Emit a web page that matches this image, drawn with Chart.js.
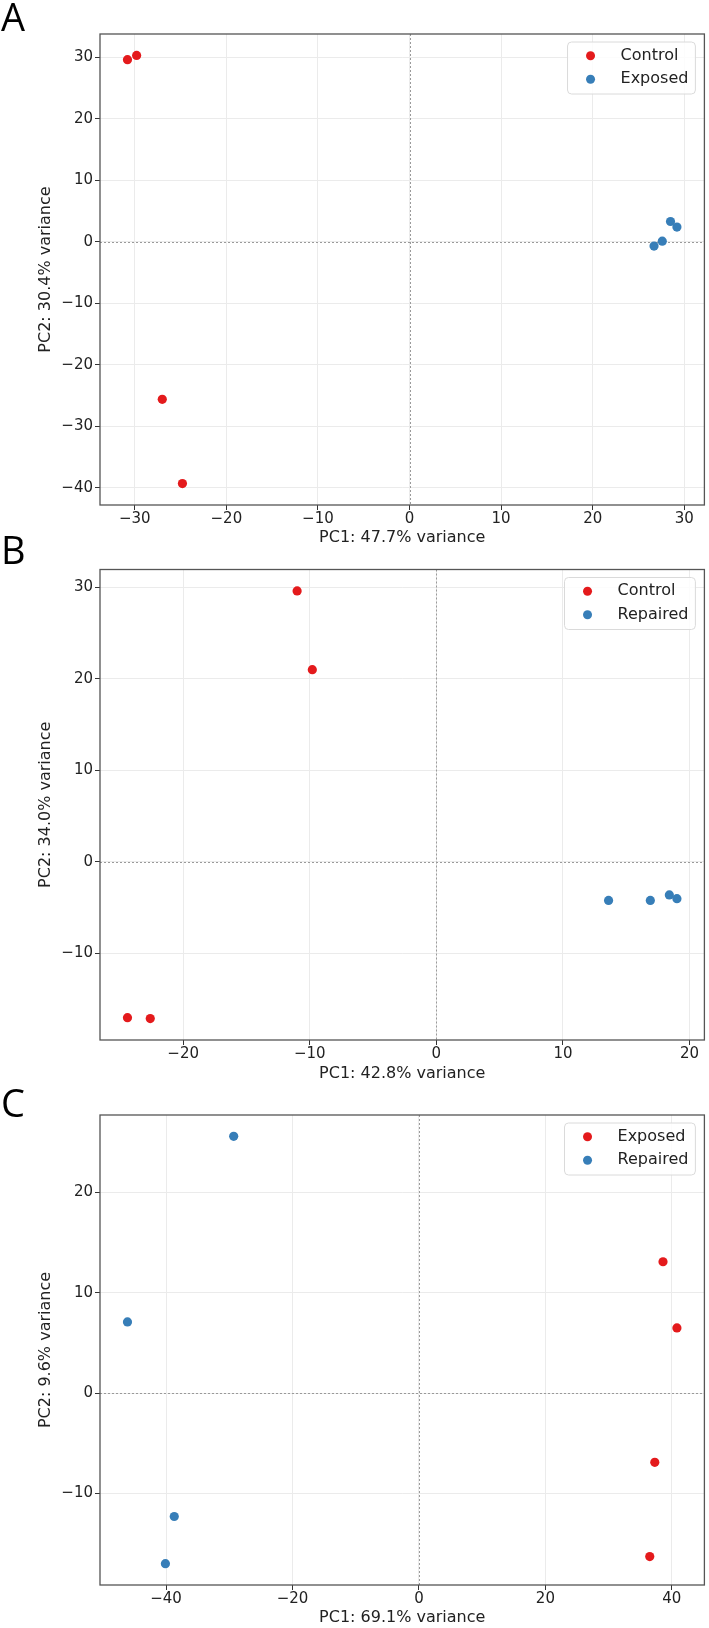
<!DOCTYPE html>
<html>
<head>
<meta charset="utf-8">
<script src="https://cdn.jsdelivr.net/npm/chart.js@4.4.1/dist/chart.umd.min.js"></script>
<style>
    body { margin: 0; background: #fff; }
    #lienzo { position: relative; width: 709px; height: 1628px; overflow: hidden; }
    #lienzo canvas { position: absolute; left: 0; }
    .letra { position: absolute; left: 1px; font-family: "Open Sans"; font-size: 38px; line-height: 1; color: #000; }
</style>
</head>
<body>
<div id="lienzo">
    <canvas id="panelA" width="709" height="560" style="top:0px"></canvas>
    <canvas id="panelB" width="709" height="540" style="top:560px"></canvas>
    <canvas id="panelC" width="709" height="528" style="top:1100px"></canvas>
    <div class="letra" style="top:-3px">A</div>
    <div class="letra" style="top:530px">B</div>
    <div class="letra" style="top:1083px">C</div>
</div>
<script>
// Panel A: Control vs Exposed
const etiquetasA = ['Control', 'Exposed'];
const controlA_x = [-30.8, -29.8, -27.0, -24.8];
const controlA_y = [29.6, 30.3, -25.6, -39.3];
const exposedA_x = [26.7, 27.6, 28.5, 29.2];
const exposedA_y = [-0.7, 0.1, 3.3, 2.4];

// Panel B: Control vs Repaired
const etiquetasB = ['Control', 'Repaired'];
const controlB_x = [-11.0, -9.8, -24.4, -22.6];
const controlB_y = [29.6, 21.0, -17.0, -17.1];
const repairedB_x = [13.6, 16.9, 18.4, 19.0];
const repairedB_y = [-4.2, -4.2, -3.6, -4.0];

// Panel C: Exposed vs Repaired
const etiquetasC = ['Exposed', 'Repaired'];
const exposedC_x = [38.6, 40.8, 37.3, 36.5];
const exposedC_y = [13.1, 6.5, -6.9, -16.3];
const repairedC_x = [-29.3, -46.1, -38.7, -40.1];
const repairedC_y = [25.6, 7.1, -12.3, -17.0];

const titulosX = ['PC1: 47.7% variance', 'PC1: 42.8% variance', 'PC1: 69.1% variance'];
const titulosY = ['PC2: 30.4% variance', 'PC2: 34.0% variance', 'PC2: 9.6% variance'];
const pasosX = [10, 10, 20];
const pasosY = [10, 10, 10];

const rojo = '#e41a1c';
const azul = '#377eb8';

document.addEventListener("DOMContentLoaded", dibujar);

function puntos(xs, ys){
    return xs.map((x, i) => ({ x: x, y: ys[i] }));
}

// limites con 5% de margen, como matplotlib
function limites(){
    let todos = [].concat(...arguments);
    let min = Math.min(...todos), max = Math.max(...todos);
    let margen = (max - min) * 0.05;
    return { min: min - margen, max: max + margen };
}

function conMenos(valor){
    return valor < 0 ? '\u2212' + Math.abs(valor) : String(valor);
}

const marcoPlugin = {
    id: 'marco',
    beforeDatasetsDraw(chart){
        const ctx = chart.ctx, a = chart.chartArea;
        const x0 = Math.round(chart.scales.x.getPixelForValue(0)) + 0.5;
        const y0 = Math.round(chart.scales.y.getPixelForValue(0)) + 0.5;
        ctx.save();
        ctx.strokeStyle = '#9a9a9a';
        ctx.lineWidth = 1;
        ctx.setLineDash([2, 2]);
        ctx.beginPath();
        ctx.moveTo(x0, a.top); ctx.lineTo(x0, a.bottom);
        ctx.moveTo(a.left, y0); ctx.lineTo(a.right, y0);
        ctx.stroke();
        ctx.restore();
    },
    afterDatasetsDraw(chart){
        const ctx = chart.ctx, a = chart.chartArea;
        ctx.save();
        ctx.strokeStyle = '#555';
        ctx.lineWidth = 1.3;
        ctx.strokeRect(a.left, a.top, a.right - a.left, a.bottom - a.top);
        ctx.restore();
    },
    afterDraw(chart){
        // leyenda dentro del area, arriba a la derecha
        const ctx = chart.ctx, a = chart.chartArea;
        const datos = chart.data.datasets;
        ctx.save();
        ctx.font = '16px "DejaVu Sans"';
        let anchoTexto = Math.max(...datos.map(d => ctx.measureText(d.label).width));
        let ancho = 53 + anchoTexto + 7, alto = 52;
        let x0 = a.right - 9 - ancho, y0 = a.top + 8;
        ctx.beginPath();
        ctx.roundRect(x0, y0, ancho, alto, 4);
        ctx.fillStyle = 'rgba(255,255,255,0.85)';
        ctx.fill();
        ctx.strokeStyle = '#dadada';
        ctx.lineWidth = 1;
        ctx.stroke();
        datos.forEach((d, i) => {
            let yc = y0 + 13.7 + i * 23.6;
            ctx.beginPath();
            ctx.arc(x0 + 23, yc, 4.5, 0, Math.PI * 2);
            ctx.fillStyle = d.backgroundColor;
            ctx.fill();
            ctx.fillStyle = '#222';
            ctx.textAlign = 'left';
            ctx.textBaseline = 'middle';
            ctx.fillText(d.label, x0 + 53, yc);
        });
        ctx.restore();
    }
};

function crearPanel(id, etiquetas, serie1, serie2, n, caja){
    const limX = limites(serie1[0], serie2[0]);
    const limY = limites(serie1[1], serie2[1]);
    const ctx = document.getElementById(id).getContext('2d');
    return new Chart(ctx, {
        type: 'scatter',
        data: {
            datasets: [
                { label: etiquetas[0], data: puntos(serie1[0], serie1[1]), backgroundColor: rojo, borderWidth: 0, pointRadius: 4.6 },
                { label: etiquetas[1], data: puntos(serie2[0], serie2[1]), backgroundColor: azul, borderWidth: 0, pointRadius: 4.6 }
            ]
        },
        options: {
            responsive: false,
            animation: false,
            events: [],
            layout: { padding: { top: caja.arriba, right: 3, left: 0, bottom: 0 } },
            plugins: { legend: { display: false }, tooltip: { enabled: false } },
            scales: {
                x: {
                    type: 'linear',
                    min: limX.min,
                    max: limX.max,
                    ticks: { stepSize: pasosX[n], includeBounds: false, padding: 1.5, color: '#222', autoSkip: false, maxRotation: 0,
                             font: { size: 15, lineHeight: 1 }, callback: conMenos },
                    grid: { color: '#ebebeb', lineWidth: 1, tickLength: 5, tickColor: '#333', tickWidth: 1 },
                    border: { display: false },
                    title: { display: true, text: titulosX[n], color: '#222', font: { size: 16, lineHeight: 1 },
                             padding: { top: 0, bottom: caja.margenTitulo } },
                    afterFit: s => { s.height = caja.altoEjeX; }
                },
                y: {
                    type: 'linear',
                    min: limY.min,
                    max: limY.max,
                    ticks: { stepSize: pasosY[n], includeBounds: false, padding: 2, color: '#222',
                             font: { size: 15, lineHeight: 1 }, callback: conMenos },
                    grid: { color: '#ebebeb', lineWidth: 1, tickLength: 5, tickColor: '#333', tickWidth: 1 },
                    border: { display: false },
                    title: { display: true, text: titulosY[n], color: '#222', font: { size: 16, lineHeight: 1 },
                             padding: { top: 37.5, bottom: 0 } },
                    afterFit: s => { s.width = 100; }
                }
            }
        },
        plugins: [marcoPlugin]
    });
}

function dibujar(){
    Chart.defaults.font.family = '"DejaVu Sans"';
    crearPanel('panelA', etiquetasA, [controlA_x, controlA_y], [exposedA_x, exposedA_y], 0,
        { arriba: 34, altoEjeX: 55, margenTitulo: 14 });
    crearPanel('panelB', etiquetasB, [controlB_x, controlB_y], [repairedB_x, repairedB_y], 1,
        { arriba: 9, altoEjeX: 60, margenTitulo: 18 });
    crearPanel('panelC', etiquetasC, [exposedC_x, exposedC_y], [repairedC_x, repairedC_y], 2,
        { arriba: 15, altoEjeX: 43, margenTitulo: 2.6 });
}
</script>
</body>
</html>
